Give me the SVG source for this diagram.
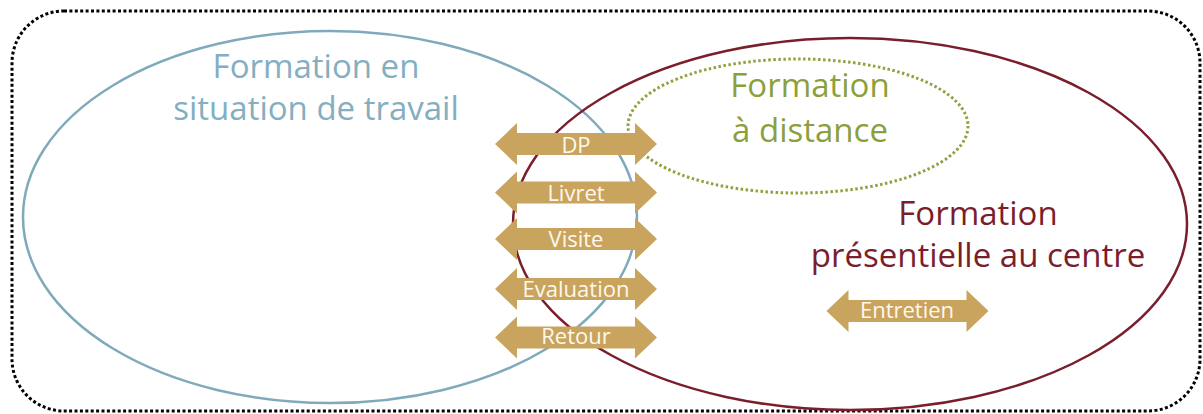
<svg xmlns="http://www.w3.org/2000/svg" width="1203" height="414" viewBox="0 0 1203 414">
  <style>
    .title { font-family: "Open Sans", "Liberation Sans", sans-serif; font-size: 33px; text-anchor: middle; }
    .lbl { font-family: "Open Sans", "Liberation Sans", sans-serif; font-size: 22px; text-anchor: middle; fill: #FFF8EC; }
    .arrow { fill: #C9A45E; }
  </style>
  <defs>
    <path id="dbl" d="M-81 0 L-59 -21 L-59 -11 L59 -11 L59 -21 L81 0 L59 21 L59 11 L-59 11 L-59 21 Z"/>
  </defs>
  <rect x="12" y="11" width="1188" height="400" rx="52" ry="52" fill="none" stroke="#000" stroke-width="3" stroke-dasharray="3 2.4"/>
  <g id="travail">
    <ellipse cx="330" cy="217" rx="307" ry="186" fill="none" stroke="#7FAABB" stroke-width="2.5"/>
    <text class="title" fill="#84AEC1" x="316" y="78">Formation en</text>
    <text class="title" fill="#84AEC1" x="316" y="120">situation de travail</text>
  </g>
  <g id="centre">
    <ellipse cx="850" cy="224" rx="337" ry="186" fill="none" stroke="#7A1E2C" stroke-width="2.5"/>
    <text class="title" fill="#7A1E2C" x="978" y="225">Formation</text>
    <text class="title" fill="#7A1E2C" x="978" y="267">présentielle au centre</text>
  </g>
  <g id="distance">
    <ellipse cx="798" cy="126" rx="170" ry="67" fill="none" stroke="#8DA33C" stroke-width="3" stroke-dasharray="2.5 2.5"/>
    <text class="title" fill="#8BA03A" x="810" y="97">Formation</text>
    <text class="title" fill="#8BA03A" x="810" y="142">à distance</text>
  </g>
  <rect x="516" y="203" width="119" height="25" fill="#FFFFFF"/>
  <g id="connectors">
    <g id="dp"><use href="#dbl" class="arrow" transform="translate(576 144)"/><text class="lbl" x="576" y="153">DP</text></g>
    <g id="livret"><use href="#dbl" class="arrow" transform="translate(576 192.5)"/><text class="lbl" x="576" y="201">Livret</text></g>
    <g id="visite"><use href="#dbl" class="arrow" transform="translate(576 239)"/><text class="lbl" x="576" y="247">Visite</text></g>
    <g id="evaluation"><use href="#dbl" class="arrow" transform="translate(576 289)"/><text class="lbl" x="576" y="297">Evaluation</text></g>
    <g id="retour"><use href="#dbl" class="arrow" transform="translate(576 337.5)"/><text class="lbl" x="576" y="344">Retour</text></g>
    <g id="entretien"><use href="#dbl" class="arrow" transform="translate(907.5 311)"/><text class="lbl" x="907" y="318">Entretien</text></g>
  </g>
</svg>
